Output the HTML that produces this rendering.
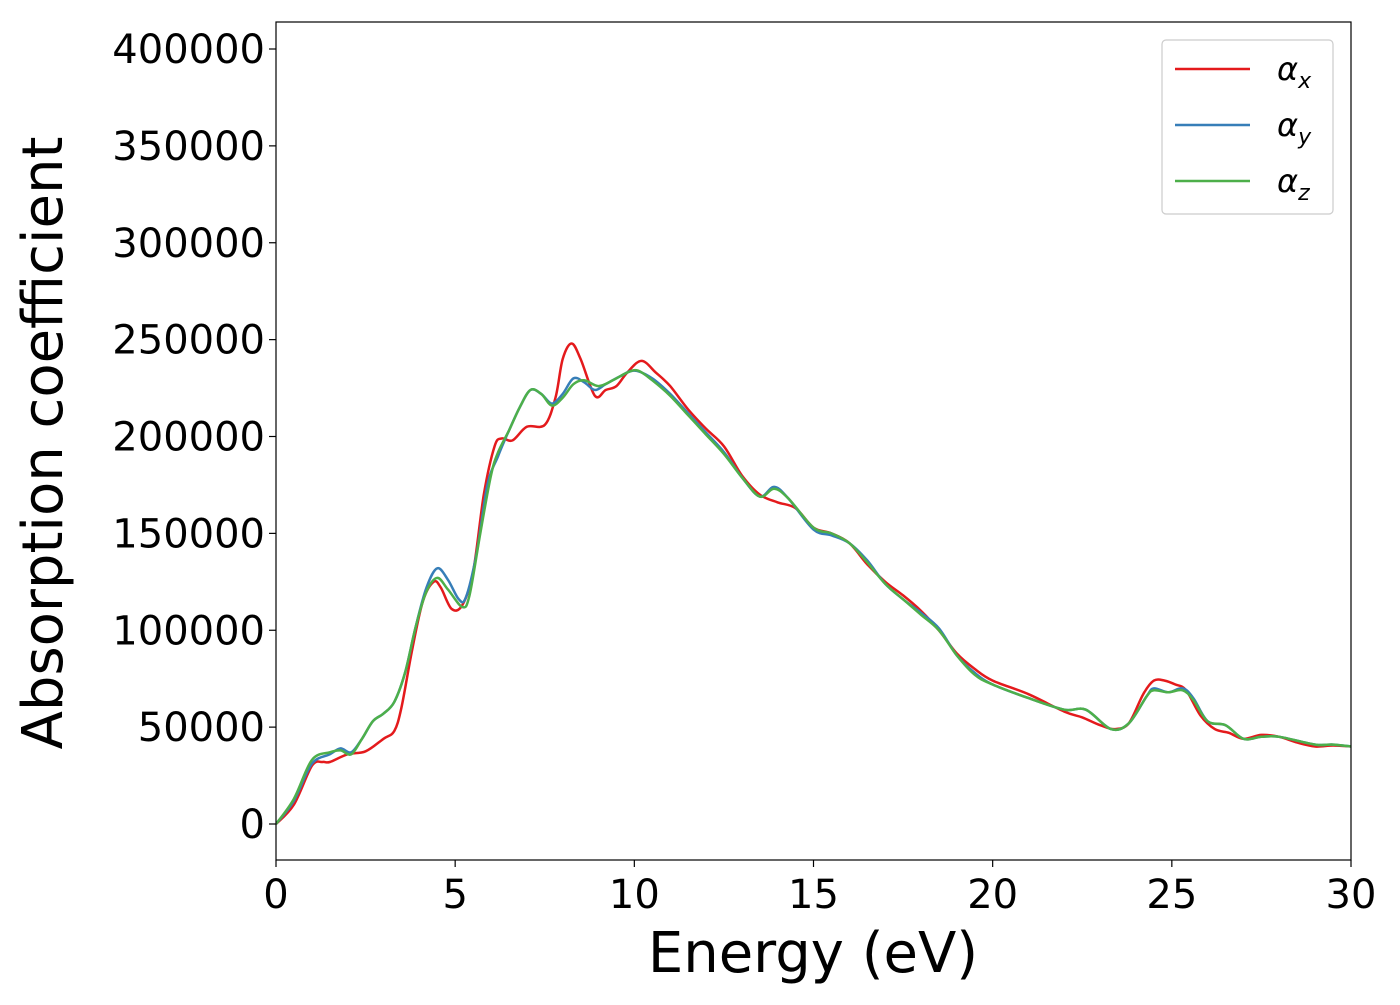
<!DOCTYPE html>
<html><head><meta charset="utf-8"><style>
body{margin:0;background:#fff;}
svg text{font-family:"DejaVu Sans","Liberation Sans",sans-serif;}
</style></head><body>
<svg id="chart" width="1400" height="1000" xmlns="http://www.w3.org/2000/svg">
<g id="plot"></g>
</svg>
<script>
const xTicks=[0,5,10,15,20,25,30];
const yTicks=[0,50000,100000,150000,200000,250000,300000,350000,400000];
const seriesNames=["x","y","z"];
const seriesColors=["#e41a1c","#377eb8","#4daf4a"];
const redX=[0,0.5,1,1.3,1.5,2,2.5,3,3.3,3.5,3.8,4.1,4.4,4.6,4.9,5.2,5.5,5.8,6.1,6.3,6.6,7,7.5,7.8,8.0,8.25,8.5,8.9,9.2,9.5,9.8,10.2,10.6,11,11.5,12,12.5,13,13.5,14,14.5,15,15.5,16,16.5,17,17.5,18,18.5,19,19.5,20,21,22,22.5,23,23.4,23.8,24.2,24.5,24.8,25.1,25.4,25.8,26.2,26.6,27,27.5,28,28.5,29,29.5,30];
const redY=[0,10000,30000,32000,32000,36000,37500,44000,48000,60000,90000,115000,125000,122000,111000,113000,130000,170000,195000,199000,198000,205000,206000,220000,240000,248000,240000,221000,224000,226000,233000,239000,233000,226000,214000,204000,195000,180000,170000,166000,163000,153000,150000,145000,134000,125000,118000,110000,100000,88000,80000,74000,67000,58000,55000,51000,49000,52000,67000,74000,74000,72000,69000,56000,49000,47000,44000,46000,45000,42000,40000,40500,40000];
const blueX=[0,0.5,1,1.5,1.8,2.1,2.4,2.7,3,3.3,3.6,3.9,4.2,4.5,4.8,5.1,5.3,5.6,5.9,6.2,6.5,6.8,7.1,7.4,7.7,8,8.3,8.6,8.9,9.2,9.6,10,10.5,11,11.5,12,12.5,13,13.5,13.9,14.3,15,15.5,16,16.5,17,17.5,18,18.5,19,19.5,20,21,22,22.6,23.3,23.8,24.3,24.5,24.9,25.3,25.6,26,26.5,27,27.5,28,29,29.5,30];
const blueY=[0,12000,31000,36000,39000,37000,44000,53000,57000,63000,78000,102000,122000,132000,126000,116000,117000,140000,175000,190000,203000,215000,224000,222000,217000,222000,230000,228000,224000,227000,231000,234000,230000,222000,212000,202000,192000,179000,169000,174000,168000,152000,149000,145000,136000,124000,116000,109000,101000,87000,78000,72000,65000,59000,59000,49000,52000,66000,70000,68000,70000,65000,53000,51000,44000,45000,45000,41000,41000,40000];
const greenX=[0,0.5,1,1.5,1.8,2.1,2.4,2.7,3,3.3,3.6,3.9,4.2,4.5,4.8,5.2,5.4,5.7,6.0,6.2,6.5,6.8,7.1,7.4,7.7,8,8.3,8.6,9.0,9.4,9.8,10.1,10.5,11,11.5,12,12.5,13,13.5,13.9,14.3,15,15.5,16,16.5,17,17.5,18,18.5,19,19.5,20,21,22,22.6,23.3,23.8,24.3,24.5,24.9,25.3,25.6,26,26.5,27,27.5,28,29,29.5,30];
const greenY=[0,13000,33000,37000,38000,36000,44000,53000,57000,63000,78000,102000,120000,127000,121000,112000,118000,150000,180000,192000,203000,215000,224000,222000,216000,220000,227000,229000,226000,229000,233000,234000,229000,221000,211000,201000,191000,179000,169000,173000,168000,153000,150000,145000,135000,124000,116000,108000,100000,87000,77000,72000,65000,59000,59000,49000,52000,66000,69000,68000,69000,64000,53000,51000,44000,45000,45000,41000,41000,40000];
const allX=[redX,blueX,greenX], allY=[redY,blueY,greenY];

const L=276,R=1351,T=22,B=860;
const xs=v=>L+(v-0)/30*(R-L);
const ys=v=>824-v/100000*193.75;
const NS="http://www.w3.org/2000/svg";
const g=document.getElementById('plot');
function mk(tag,attrs){const e=document.createElementNS(NS,tag);for(const k in attrs)e.setAttribute(k,attrs[k]);return e;}
function path(X,Y){
  const p=X.map((x,i)=>[xs(x),ys(Y[i])]);
  let d="M"+p[0][0].toFixed(1)+","+p[0][1].toFixed(1);
  for(let i=0;i<p.length-1;i++){
    const p0=p[Math.max(0,i-1)],p1=p[i],p2=p[i+1],p3=p[Math.min(p.length-1,i+2)];
    const c1=[p1[0]+(p2[0]-p0[0])/6,p1[1]+(p2[1]-p0[1])/6];
    const c2=[p2[0]-(p3[0]-p1[0])/6,p2[1]-(p3[1]-p1[1])/6];
    d+=" C"+c1[0].toFixed(1)+","+c1[1].toFixed(1)+" "+c2[0].toFixed(1)+","+c2[1].toFixed(1)+" "+p2[0].toFixed(1)+","+p2[1].toFixed(1);
  }
  return d;
}
const clip=mk('clipPath',{id:'cp'});clip.appendChild(mk('rect',{x:L,y:T,width:R-L,height:B-T}));g.appendChild(clip);
const lines=mk('g',{'clip-path':'url(#cp)'});g.appendChild(lines);
for(let s=0;s<3;s++){
  const e=mk('path',{d:path(allX[s],allY[s]),fill:'none',stroke:seriesColors[s],'stroke-width':2.5});
  
  
  lines.appendChild(e);
}
const frame=mk('rect',{x:L,y:T,width:R-L,height:B-T,fill:'none',stroke:'#000','stroke-width':1.2});


g.appendChild(frame);
xTicks.forEach(v=>{
  const x=xs(v);
  const t=mk('line',{x1:x,x2:x,y1:B,y2:B+7,stroke:'#000','stroke-width':1.2});
  
  
  g.appendChild(t);
  const l=mk('text',{x:x,y:B+48,'font-size':40,'text-anchor':'middle'});
  
  
  l.textContent=v;g.appendChild(l);
});
yTicks.forEach(v=>{
  const y=ys(v);
  const t=mk('line',{x1:L-7,x2:L,y1:y,y2:y,stroke:'#000','stroke-width':1.2});
  
  
  g.appendChild(t);
  const l=mk('text',{x:L-11,y:y+14,'font-size':40,'text-anchor':'end'});
  
  
  l.textContent=v;g.appendChild(l);
});
const xl=mk('text',{x:813,y:972,'font-size':56,'text-anchor':'middle'});


xl.textContent='Energy (eV)';g.appendChild(xl);
const yl=mk('text',{x:0,y:0,'font-size':56,'text-anchor':'middle',transform:'translate(62,443) rotate(-90)'});


yl.textContent='Absorption coefficient';g.appendChild(yl);
const lg=mk('g',{});


g.appendChild(lg);
lg.appendChild(mk('rect',{x:1162,y:40,width:171,height:174,rx:4,fill:'#fff',stroke:'#ccc','stroke-width':1.2}));
for(let s=0;s<3;s++){
  const y=69+s*56;
  const en=mk('g',{});
  
  
  en.appendChild(mk('line',{x1:1175,x2:1250,y1:y,y2:y,stroke:seriesColors[s],'stroke-width':2.5}));
  const tx=mk('text',{x:1277,y:y+11,'font-size':32,'font-style':'italic'});
  tx.innerHTML='α<tspan font-size="22" dy="8">'+seriesNames[s]+'</tspan>';
  en.appendChild(tx);
  lg.appendChild(en);
}
</script>
</body></html>
